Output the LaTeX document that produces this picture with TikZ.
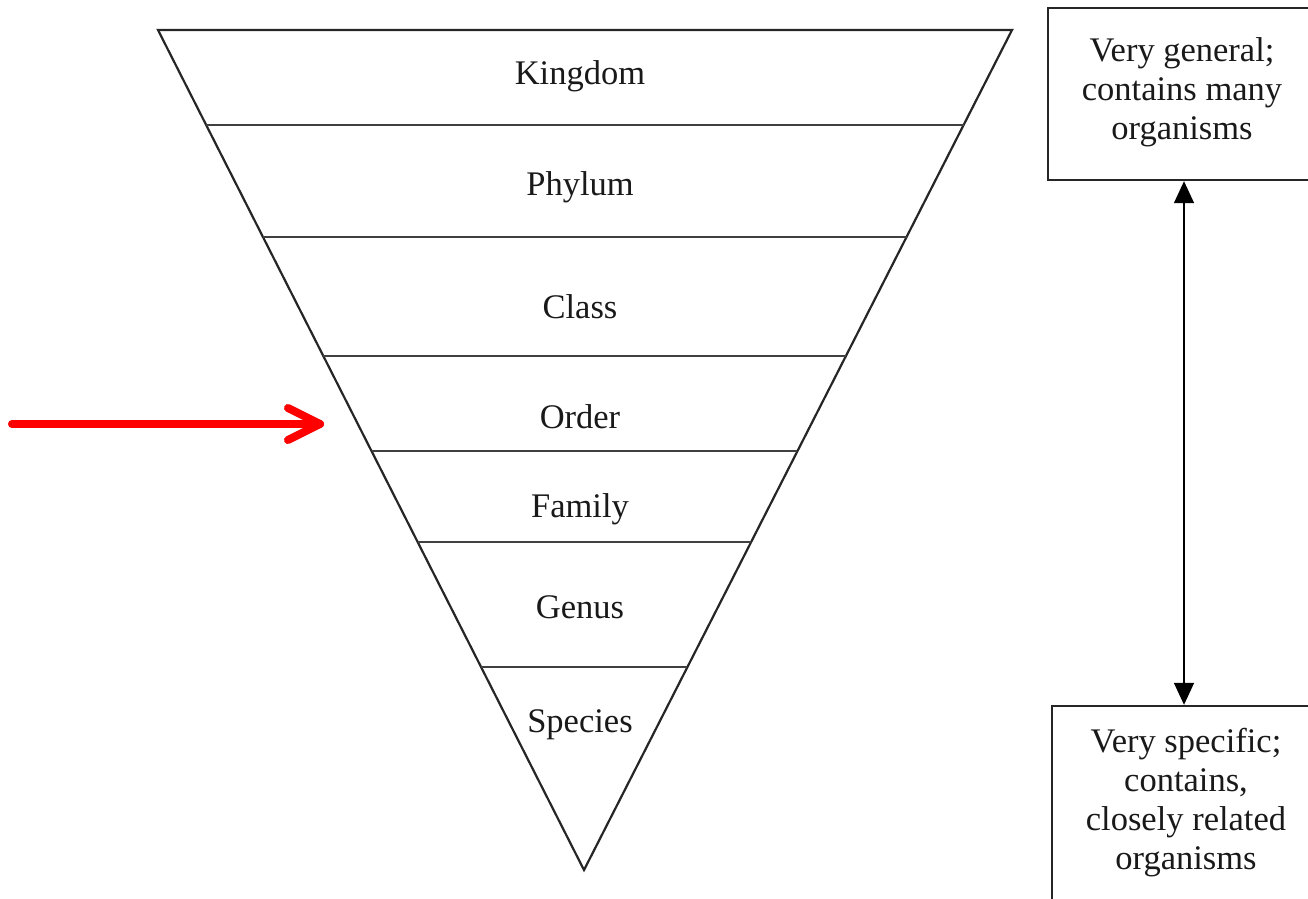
\documentclass[tikz,border=0pt]{standalone}
\usepackage{fontspec}
\setmainfont{Liberation Serif}
\usetikzlibrary{calc,arrows.meta}
\begin{document}
\begin{tikzpicture}[x=1pt,y=-1pt,
  tri/.style={draw=black!85,line width=2.2pt,line join=miter},
  divline/.style={draw=black!75,line width=2pt},
  lab/.style={font=\fontsize{34.5}{40}\selectfont,text=black!90,inner sep=0pt},
  infobox/.style={draw=black!85,line width=2.4pt,minimum width=268pt,align=center,
    font=\fontsize{34.5}{39}\selectfont,text=black!90,inner sep=0pt},
  dbl/.style={line width=1.6pt,draw=black,{Triangle[length=22pt,width=20pt]}-{Triangle[length=22pt,width=20pt]}},
  redarrow/.style={draw=red,line width=8pt,line cap=round,line join=round},
  redshadow/.style={draw=black!25,line width=8pt,line cap=round,line join=round}]
\useasboundingbox (0,0) rectangle (1308,898);
\clip (0,0) rectangle (1308,898);
% triangle
\coordinate (TL) at (158,30);
\coordinate (TR) at (1012,30);
\coordinate (A) at (584,870);
\draw[tri] (TL) -- (TR) -- (A) -- cycle;
\foreach \t/\n in {0.1131/a,0.2464/b,0.3881/c,0.5012/d,0.6095/e,0.7583/f}{
  \draw[divline] ($(TL)!\t!(A)$) -- ($(TR)!\t!(A)$);
}
% labels
\node[lab] (kingdom) at (580,76) {Kingdom};
\node[lab] (phylum) at (580,187) {Phylum};
\node[lab] (class) at (580,307) {Class};
\node[lab] (order) at (580,417) {Order};
\node[lab] (family) at (580,509) {Family};
\node[lab] (genus) at (580,607) {Genus};
\node[lab] (species) at (580,725) {Species};
% boxes
\node[infobox,minimum height=172pt] (general) at (1182,94) {Very general;\\contains many\\organisms\rule[-10pt]{0pt}{0pt}};
\node[infobox,minimum height=194pt] (specific) at (1186,803) {Very specific;\\contains,\\closely related\\organisms};
\draw[dbl] (general.south -| 1184,0) -- (specific.north -| 1184,0);
% red arrow
\coordinate (rs) at (12,424);
\coordinate (re) at (320,424);
\begin{scope}[shift={(2,3)},opacity=0.5]
\draw[redshadow] (rs) -- (re);
\draw[redshadow] ($(re)+(-32,-16)$) -- (re) -- ($(re)+(-32,16)$);
\end{scope}
\draw[redarrow] (rs) -- (re);
\draw[redarrow] ($(re)+(-32,-16)$) -- (re) -- ($(re)+(-32,16)$);
\end{tikzpicture}
\end{document}
